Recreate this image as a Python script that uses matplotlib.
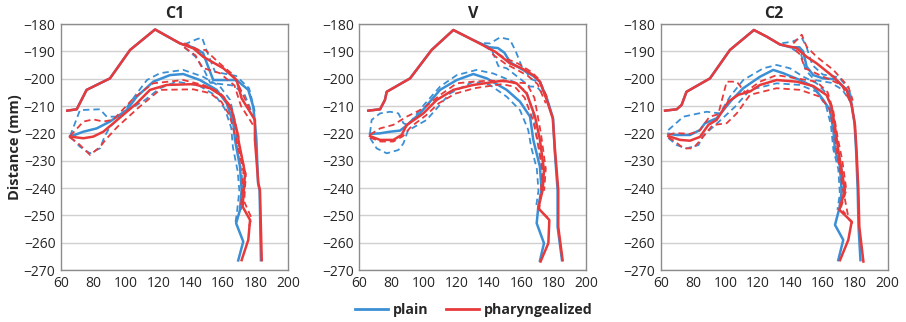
import matplotlib
matplotlib.use("Agg")
import matplotlib.pyplot as plt
from matplotlib.lines import Line2D

plt.rcParams['font.family'] = ['Open Sans', 'DejaVu Sans']

panels = ["C1", "V", "C2"]
series = ["plain", "pharyngealized"]
x_ticks = [60, 80, 100, 120, 140, 160, 180, 200]
y_ticks = [-180, -190, -200, -210, -220, -230, -240, -250, -260, -270]

# ---------------- C1 ----------------
c1_plain_outer = [(63.9, -211.7), (69.7, -211.2), (75.8, -204.1), (90.2, -199.9), (102.6, -189.5),
                  (118, -182), (133.4, -187.1), (141.6, -188.6), (147.6, -190.6), (151, -196),
                  (153.9, -200.5), (168.3, -200.5), (175.5, -204.1), (178.6, -210.3), (180.5, -222),
                  (181.5, -238), (182.5, -241), (183.3, -266.4)]
c1_phar_outer = [(63.9, -211.7), (69.7, -211.2), (75.8, -204.1), (90.2, -199.9), (102.6, -189.5),
                 (118, -182), (133.4, -187.1), (141.6, -188.9), (147.7, -192), (160.1, -196.2),
                 (168.3, -200.5), (171.4, -207.2), (179.6, -215.1), (179.6, -222.4), (181.7, -238.3),
                 (182.7, -240.7), (183.8, -266.4)]
c1_plain_outer_hi = [(136, -187.5), (144, -185.5), (147, -185), (150, -190), (155, -197.5),
                     (168, -199), (176, -203.5), (179.5, -212)]
c1_plain_outer_lo = [(136, -188.5), (143, -192), (148, -196.5), (152, -201.5), (166, -202.5),
                     (173, -205.5), (177.5, -212)]
c1_phar_outer_hi = [(136, -187), (145, -189.5), (149, -189.5), (158, -194.5), (166, -198.5),
                    (170, -203), (177, -212)]
c1_phar_outer_lo = [(136, -188.5), (143, -191.5), (147, -196), (158, -198), (167, -202.5),
                    (171, -210), (178.5, -217)]
c1_plain_inner = [(65.6, -221.2), (73.8, -219.4), (82, -218.2), (90.2, -215.7), (100.5, -211.5),
                  (106.7, -206.6), (116.9, -201.1), (127.2, -198.7), (135.4, -198.3), (145.7, -200.5),
                  (156, -204.1), (162.2, -209), (166.3, -216.3), (167.3, -222.4), (170.4, -232.2),
                  (171.4, -240.7), (170.4, -248), (168, -252.9), (172.4, -259.6), (169.3, -266.5)]
c1_phar_inner = [(65.6, -221.2), (73.8, -221.8), (79.9, -221.2), (86.1, -219.4), (92.3, -216.3),
                 (106.7, -209), (114.9, -204.1), (125.2, -202.3), (141.6, -202), (151.9, -203.5),
                 (160.1, -206.6), (165.3, -211.5), (169.4, -221.2), (169.4, -222.4), (173.5, -234.6),
                 (172, -246.8), (176.6, -251.7), (175.5, -259), (171.4, -266.4)]
c1_plain_inner_hi = [(65.6, -221), (71.7, -211.5), (84, -211.2), (88.2, -213.9), (96.4, -213.9),
                     (106, -206), (113, -200.5), (121, -198), (135.4, -196.8), (147.7, -199.3),
                     (158.1, -202.9), (164.3, -207.8), (167.5, -216), (168.5, -225), (171.5, -235),
                     (171.8, -241), (171, -248)]
c1_plain_inner_lo = [(65.6, -221.5), (67.6, -222.4), (71.7, -224.9), (77.9, -227.3), (84, -225.5),
                     (87, -221), (90.2, -217.6), (100, -212), (111.8, -207.8), (121, -203.5),
                     (131.3, -201.1), (145, -202.5), (155, -206), (161, -211), (165, -218),
                     (166, -225), (169, -234), (170, -241), (168.5, -249), (167.5, -253)]
c1_phar_inner_hi = [(65.6, -221), (73.8, -215.7), (79.9, -214.9), (86.1, -215.7), (92.3, -215),
                    (105, -207), (116.9, -201.7), (135.4, -200.5), (147.7, -202.3), (158, -205),
                    (164.5, -210), (168.5, -219), (170, -225), (174, -235), (173, -245),
                    (177.5, -251), (176, -254)]
c1_phar_inner_lo = [(65.6, -221.5), (70.7, -223.7), (77.9, -227.9), (84, -225), (88, -222),
                    (95, -217.5), (108, -210.5), (121, -204.1), (141.6, -203.9), (151.9, -205.3),
                    (159, -208.5), (164, -213.5), (168, -222), (172.5, -234), (171, -247)]

# ---------------- V ----------------
v_plain_outer = [(65.6, -211.7), (72.8, -211.2), (75.8, -207.8), (76.9, -204.8), (91.3, -199.9),
                 (104.6, -189.5), (118, -182.2), (130.3, -185.9), (140, -188.5), (145.5, -188.8),
                 (149.5, -190.5), (153, -194), (160.1, -196.5), (167.3, -199), (171.4, -201.1),
                 (176, -207.8), (179.5, -214.5), (180.5, -226.1), (182.3, -240.7), (182.3, -254.2),
                 (185, -266.4)]
v_phar_outer = [(65.6, -211.7), (72.8, -211.2), (75.8, -207.8), (76.9, -204.8), (91.3, -199.9),
                (104.6, -189.5), (118, -182.2), (130.3, -185.9), (143.7, -190.1), (152.9, -194.4),
                (160.1, -196.2), (167.3, -198.7), (171.4, -201.1), (175.6, -207.8), (179.3, -214.5),
                (180.7, -226.1), (182.7, -240.7), (182.7, -254.2), (185.4, -266.4)]
v_plain_outer_hi = [(137, -187), (140.6, -187.1), (146.8, -184.9), (152.9, -185.7), (156.5, -190),
                    (160.1, -195.4), (166.3, -200.2), (171.4, -201.5), (176.5, -208)]
v_plain_outer_lo = [(137, -188), (142, -190), (145.8, -195.4), (150.9, -196.2), (158, -199.5),
                    (165.3, -202.9), (169.4, -202.9), (174, -206)]
v_phar_outer_hi = [(140, -189), (150, -192.5), (158, -194.5), (166, -197.5), (170.5, -200),
                   (176, -207)]
v_phar_outer_lo = [(142, -191), (150, -194.5), (158, -197), (164, -199), (170, -202),
                   (175, -209)]
v_plain_inner = [(66.6, -220.2), (72.8, -220), (79, -219.4), (85.1, -219), (88.2, -217.6),
                 (97.4, -212.7), (109.8, -204.1), (120.1, -200.5), (130.3, -198.3), (138.6, -199.9),
                 (150.9, -204.1), (159.1, -208.4), (165.3, -213.9), (167.3, -222.4), (171.4, -232.2),
                 (172.4, -240.7), (170.4, -246.8), (169.4, -252.9), (173.9, -260.2), (171.4, -266.6)]
v_phar_inner = [(66.6, -221), (72.8, -222.4), (81, -222.4), (86.1, -220.6), (89.2, -217),
                (99.5, -212.7), (107.7, -207.8), (118, -204.1), (130.3, -202.3), (148.8, -200.7),
                (157, -201.7), (163.2, -205.4), (168.4, -213.9), (171.4, -222.4), (173.9, -233.4),
                (173.1, -240.7), (170.4, -247.4), (177.2, -251.7), (176.6, -260.2), (171.8, -266.9)]
v_plain_inner_hi = [(66.6, -220), (67.6, -215.1), (72.8, -212.7), (79, -212.1), (84.1, -212.7),
                    (87.2, -216.3), (90, -217), (100, -209.5), (109.8, -202.9), (120.1, -198.7),
                    (132.3, -196.8), (142.6, -198.1), (155, -201.1), (163.2, -204.8), (167, -212),
                    (169.5, -222), (172.5, -232), (173.5, -241)]
v_plain_inner_lo = [(66.6, -221.7), (70.7, -225.5), (76.9, -227.3), (84.1, -226.1), (87.2, -223.7),
                    (90, -219), (101.5, -215.1), (115.9, -205.4), (130.3, -201.1), (140.6, -202.3),
                    (150.9, -206.6), (159.1, -211.5), (164.2, -218.8), (166, -225), (169.5, -233),
                    (170.5, -241), (169, -247)]
v_phar_inner_hi = [(66.6, -220.5), (72.8, -218.2), (81, -216.9), (89.2, -213.9), (99.5, -210.9),
                   (109.8, -206), (120.1, -201.7), (130.3, -201.1), (140.6, -200.7), (150.9, -201.1),
                   (163.2, -201.7), (168, -207), (172, -220), (175, -233), (174, -241)]
v_phar_inner_lo = [(66.6, -221.5), (72.8, -223), (81, -223), (87, -221), (92, -217.5),
                   (101, -213.5), (109, -209), (119, -205.5), (131, -203.5), (148, -202),
                   (156, -203), (162, -207), (167, -215), (170.5, -224), (173, -234),
                   (171, -248), (176.5, -251)]

# ---------------- C2 ----------------
c2_plain_outer = [(62.7, -211.7), (69.9, -211.2), (72.9, -209.6), (75.9, -204.8), (90.4, -199.9),
                  (102.7, -189.5), (117.5, -182.2), (125.3, -184.6), (133.6, -187.5), (140, -188.5),
                  (145.5, -188.5), (147.9, -190.1), (150, -195.6), (154.1, -198.7), (160.3, -199.9),
                  (167.5, -200.2), (173.6, -203.5), (176.7, -205.4), (179.5, -216), (180.5, -226),
                  (181.5, -240.7), (182, -254), (183.2, -266.4)]
c2_phar_outer = [(62.7, -211.7), (69.9, -211.2), (72.9, -209.6), (75.9, -204.8), (90.4, -199.9),
                 (102.7, -189.5), (117.5, -182.2), (125.3, -184.6), (133.6, -187.5), (143.8, -188.8),
                 (150, -192), (156.2, -194.4), (166.5, -199.3), (174.6, -204.1), (177.7, -209.6),
                 (179.8, -216.9), (180.8, -226.5), (181.9, -240.7), (182.5, -254.2), (185, -266.9)]
c2_plain_outer_hi = [(135, -187), (141, -186.5), (147, -185), (150, -188.5), (153.5, -195),
                     (160, -198.5), (170, -199.5), (175.5, -203.5)]
c2_plain_outer_lo = [(141, -189), (146.5, -191), (149.5, -197), (155, -200.5), (165, -201.5),
                     (172, -204), (176.5, -208)]
c2_phar_outer_hi = [(141.8, -187.1), (147, -183.9), (150, -188.3), (156.2, -192), (166.5, -196.8),
                    (175.7, -202.9), (178.5, -208)]
c2_phar_outer_lo = [(143, -189.5), (146, -191.2), (149, -196.2), (160.3, -199.3), (171.6, -202.3),
                    (176.5, -208)]
c2_plain_inner = [(64.7, -220.2), (69.9, -220.6), (78.1, -220.6), (84.2, -218.8), (87.3, -216.3),
                  (94.5, -214.5), (103.8, -207.8), (110.9, -203.5), (121.2, -199.3), (129.4, -196.8),
                  (135.6, -198), (145.9, -200.5), (154.1, -202.9), (160.3, -207.8), (164.4, -211.5),
                  (166.5, -218.8), (167.5, -226.1), (170.6, -232.2), (171.6, -241.3), (170.2, -247.4),
                  (167.5, -253.5), (172.6, -259), (169.5, -266.4)]
c2_phar_inner = [(64.7, -221), (71.9, -222.4), (78.1, -222.7), (84.2, -221.3), (89.4, -216.9),
                 (94.5, -215.1), (101.7, -208.4), (107.9, -205.9), (115.1, -204.7), (121.2, -202.3),
                 (131.5, -200.5), (143.9, -201.1), (154.1, -202.7), (162.3, -206), (165.4, -210.3),
                 (167.5, -217.6), (169.5, -226.1), (173.6, -240.7), (170.2, -248), (177.8, -252.3),
                 (175.7, -259), (170.6, -266.4)]
c2_plain_inner_hi = [(64.7, -218.8), (74, -213.9), (88.3, -212.1), (96.5, -212.7), (102.7, -206.6),
                     (110.9, -200.5), (123.3, -196.2), (131.5, -195), (139.7, -196.2), (148, -199.3),
                     (156.2, -201.7), (162.3, -205.4), (165.4, -211.5), (168, -222), (171.5, -233),
                     (172.5, -241)]
c2_plain_inner_lo = [(64.7, -221.7), (69.9, -224.3), (76.1, -225.5), (83.3, -224.3), (86, -221),
                     (94.5, -216.5), (105.8, -210.3), (115.1, -204.1), (131.5, -201.7), (145.9, -202.3),
                     (156.2, -204.8), (162, -210), (165, -217), (166.5, -226), (169.5, -233),
                     (170.5, -242), (169, -248)]
c2_phar_inner_hi = [(64.7, -220.5), (68.9, -219.9), (78.1, -220.2), (84, -219), (90, -214),
                    (95.5, -213), (100.7, -201.1), (106.9, -201.1), (112, -205), (121.2, -201.1),
                    (131.5, -198.7), (143.9, -199.9), (156.2, -201.1), (163, -205), (166.5, -212),
                    (169, -221), (172, -230), (174.5, -240.7), (171, -247.5), (174, -249.5)]
c2_phar_inner_lo = [(64.7, -221.5), (68.9, -223), (74, -225.5), (80, -225.5), (84.2, -222.7),
                    (92, -217), (100.7, -216.3), (106.9, -212.7), (115.1, -205.9), (131.5, -203.5),
                    (145.9, -204.1), (158.2, -206.6), (164, -211), (167, -219), (169, -228),
                    (172.5, -240.7), (176, -251.5), (178.5, -253)]

panel_curves = {
    "C1": {
        "plain": (c1_plain_outer, c1_plain_inner, [c1_plain_outer_hi, c1_plain_outer_lo, c1_plain_inner_hi, c1_plain_inner_lo]),
        "pharyngealized": (c1_phar_outer, c1_phar_inner, [c1_phar_outer_hi, c1_phar_outer_lo, c1_phar_inner_hi, c1_phar_inner_lo]),
    },
    "V": {
        "plain": (v_plain_outer, v_plain_inner, [v_plain_outer_hi, v_plain_outer_lo, v_plain_inner_hi, v_plain_inner_lo]),
        "pharyngealized": (v_phar_outer, v_phar_inner, [v_phar_outer_hi, v_phar_outer_lo, v_phar_inner_hi, v_phar_inner_lo]),
    },
    "C2": {
        "plain": (c2_plain_outer, c2_plain_inner, [c2_plain_outer_hi, c2_plain_outer_lo, c2_plain_inner_hi, c2_plain_inner_lo]),
        "pharyngealized": (c2_phar_outer, c2_phar_inner, [c2_phar_outer_hi, c2_phar_outer_lo, c2_phar_inner_hi, c2_phar_inner_lo]),
    },
}

colors = {"plain": "#3b8fd4", "pharyngealized": "#e8393b"}
text_col = "#262626"

W, H = 906, 322
fig = plt.figure(figsize=(W / 100, H / 100), dpi=100)
lefts = [61, 359.3, 660.7]
ax_w, ax_top, ax_bot = 227, 24, 270

for i, name in enumerate(panels):
    ax = fig.add_axes([lefts[i] / W, 1 - ax_bot / H, ax_w / W, (ax_bot - ax_top) / H])
    ax.set_xlim(60, 200)
    ax.set_ylim(-270, -180)
    ax.set_xticks(x_ticks)
    ax.set_yticks(y_ticks)
    ax.set_yticklabels([f"\u2212{abs(v)}" for v in y_ticks])
    ax.tick_params(length=0, labelsize=10, colors=text_col, pad=4)
    ax.grid(axis="y", color="#d0d0d0", lw=1.0)
    ax.set_axisbelow(True)
    for sp in ax.spines.values():
        sp.set_color("#8c8c8c")
        sp.set_linewidth(1.0)
    ax.set_title(name, fontsize=11.5, fontweight="bold", color=text_col, pad=4)
    for s in series:
        outer, inner, cis = panel_curves[name][s]
        c = colors[s]
        for ci in cis:
            ax.plot([p[0] for p in ci], [p[1] for p in ci], color=c, lw=1.3,
                    dashes=(3.5, 2.2), solid_capstyle="butt")
        ax.plot([p[0] for p in outer], [p[1] for p in outer], color=c, lw=1.8)
        ax.plot([p[0] for p in inner], [p[1] for p in inner], color=c, lw=1.8)
    if i == 0:
        ax.set_ylabel("Distance (mm)", fontsize=10.5, fontweight="bold", color=text_col, labelpad=1)

handles = [Line2D([0], [0], color=colors[s], lw=2) for s in series]
fig.legend(handles, series, loc="center", bbox_to_anchor=(474 / W, 1 - 310 / H), ncol=2,
           frameon=False, prop={"weight": "bold", "size": 10.2}, handlelength=2.3,
           columnspacing=1.2, handletextpad=0.4, labelcolor=text_col)

fig.savefig("out.png", dpi=100)
